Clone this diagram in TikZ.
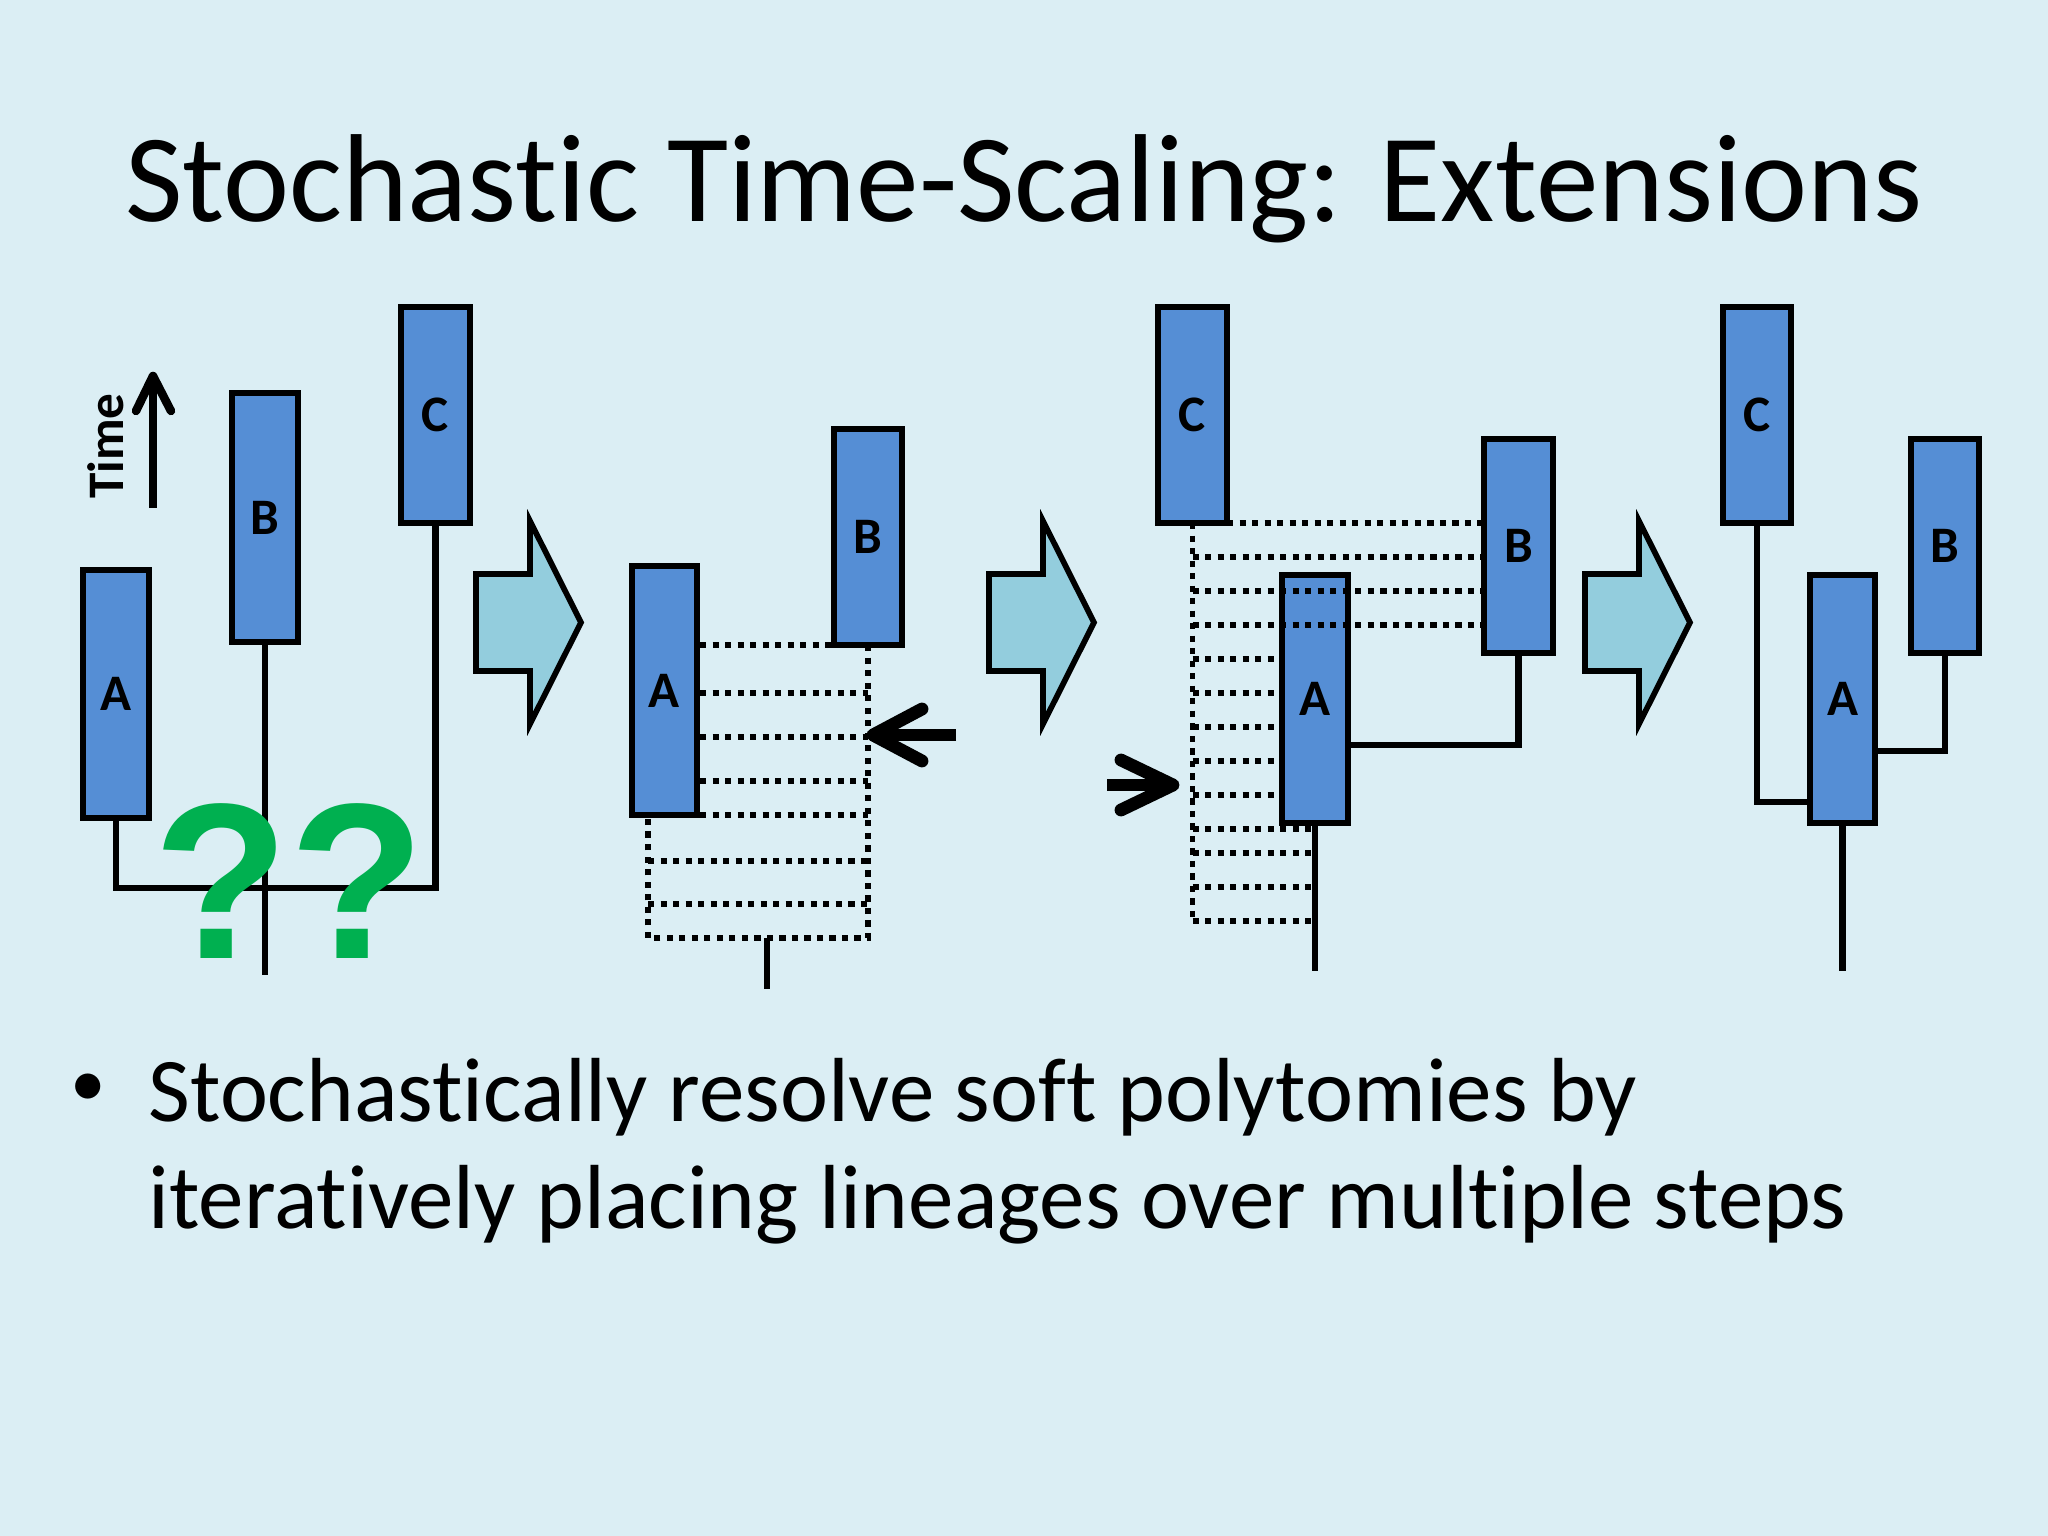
\documentclass[tikz,border=0pt]{standalone}
\usepackage{fontspec}
\setmainfont{Carlito}[Ligatures=CommonOff]
\newfontfamily\qfont{Liberation Sans}
\definecolor{bgcol}{HTML}{DBEEF4}
\definecolor{boxblue}{HTML}{558ED5}
\definecolor{arrfill}{HTML}{93CDDD}
\definecolor{qgreen}{HTML}{00B050}
\tikzset{
  lin/.style={line width=2.25pt},
  lbox/.style={draw=black, line width=2.25pt, fill=boxblue, inner sep=0pt, outer sep=0pt, font=\bfseries\fontsize{18}{20}\selectfont},
  dotln/.style={line width=2pt, dash pattern=on 2.2pt off 2.2pt},
  tickarrow/.style={line width=4.5pt, line cap=round, line join=round},
  blockarr/.pic={\filldraw[fill=arrfill, draw=black, line width=2pt] (0,0) -- (54,0) -- (54,-53) -- (105,48.5) -- (54,150) -- (54,97) -- (0,97) -- cycle;}
}
% box from (x1,y1) to (x2,y2) in pixel units, centre line of the border
\newcommand\lbx[6]{\node[lbox, minimum width={(#4-#2)*0.3515625pt}, minimum height={(#5-#3)*0.3515625pt}] (#1) at ({(#2+#4)/2},{(#3+#5)/2}) {#6};}
\begin{document}
\begin{tikzpicture}[x=0.3515625pt, y=-0.3515625pt]
\fill[bgcol] (0,0) rectangle (2048,1536);
\useasboundingbox (0,0) rectangle (2048,1536);

% title
\node[anchor=base, font=\fontsize{44}{53}\selectfont, inner sep=0pt] (title) at (1024,222) {Stochastic Time-Scaling: Extensions};

% bullet text
\node[anchor=base, font=\fontsize{25}{30}\selectfont, inner sep=0pt] (bul) at (88,1106) {•};
\node[anchor=base west, font=\fontsize{32}{38}\selectfont, inner sep=0pt] (line1) at (148,1121) {Stochastically resolve soft polytomies by};
\node[anchor=base west, font=\fontsize{32}{38}\selectfont, inner sep=0pt] (line2) at (148,1228) {iteratively placing lineages over multiple steps};

% block arrows
\pic at (476,574) {blockarr};
\pic at (989,574) {blockarr};
\pic at (1585,574) {blockarr};

% ---------- panel 1 ----------
\node[font=\bfseries\fontsize{18}{20}\selectfont, rotate=90, anchor=base, inner sep=0pt] (time) at (123,446) {Time};
\coordinate (t0) at (153,508);
\coordinate (t1) at (153,376);
\draw[line width=3pt] (t0) -- (153,380);
\draw[line width=3pt, line cap=round, line join=round] (136,411) -- (t1) -- (171,411);

\lbx{A1}{83}{570}{149}{818}{A}
\lbx{B1}{232}{393}{298}{642}{B}
\lbx{C1}{401}{307}{470}{523}{C}
\coordinate (j1) at (C1.south |- 0,888);
\coordinate (b1end) at (B1.south |- 0,975);
\draw[lin] (A1.south) |- (j1) -- (C1.south);
\draw[lin] (B1.south) -- (b1end);
\node[font=\qfont\bfseries\fontsize{78}{80}\selectfont, text=qgreen, anchor=base, inner sep=0pt] (qq) at (289,958) {??};

% ---------- panel 2 ----------
\lbx{B2}{834}{429}{902}{645}{B}
\coordinate (p2r) at (B2.south |- 0,938);
\coordinate (p2l) at (648,938);
\coordinate (p2t) at (648,818);
\draw[dotln] (700,645) -- (B2.south west);
\draw[dotln] (B2.south) -- (p2r) -- (p2l) -- (p2t);
\foreach \yy in {693,737,781,815} \draw[dotln] (700,\yy) -- (B2.south |- 0,\yy);
\foreach \yy in {861,904} \draw[dotln] (648,\yy) -- (B2.south |- 0,\yy);
\lbx{A2}{632}{566}{697}{815}{A}
\coordinate (s2a) at (767,938);
\coordinate (s2b) at (767,989);
\draw[lin] (s2a) -- (s2b);
\coordinate (m2tip) at (873,735);
\draw[tickarrow, line cap=butt] (956,735) -- (876,735);
\draw[tickarrow] (922,709) -- (m2tip) -- (922,761);

% ---------- panel 3 ----------
\lbx{C3}{1158}{307}{1227}{523}{C}
\lbx{B3}{1484}{439}{1553}{653}{B}
\draw[dotln] (C3.south) -- (C3.south |- 0,921);
\draw[dotln] (C3.south east) -- (B3.west |- 0,523);
\draw[dotln] (C3.south |- 0,557) -- (B3.west |- 0,557);
\foreach \yy in {659,693,727,761,795} \draw[dotln] (C3.south |- 0,\yy) -- (1282,\yy);
\foreach \yy in {829,853,887,921} \draw[dotln] (C3.south |- 0,\yy) -- (1314,\yy);
\lbx{A3}{1282}{575}{1348}{823}{A}
\foreach \yy in {591,625} \draw[dotln] (C3.south |- 0,\yy) -- (B3.west |- 0,\yy);
\draw[lin] (A3.east |- 0,745) -| (B3.south);
\draw[lin] (A3.south) -- (A3.south |- 0,971);
\coordinate (m3tip) at (1173,785);
\draw[tickarrow, line cap=butt] (1107,785) -- (1170,785);
\draw[tickarrow] (1121,760) -- (m3tip) -- (1121,810);

% ---------- panel 4 ----------
\lbx{C4}{1723}{307}{1791}{523}{C}
\lbx{B4}{1911}{439}{1979}{653}{B}
\lbx{A4}{1810}{575}{1875}{823}{A}
\draw[lin] (C4.south) |- (A4.west |- 0,802);
\draw[lin] (B4.south) |- (A4.east |- 0,751);
\draw[lin] (A4.south) -- (A4.south |- 0,971);
\end{tikzpicture}
\end{document}
